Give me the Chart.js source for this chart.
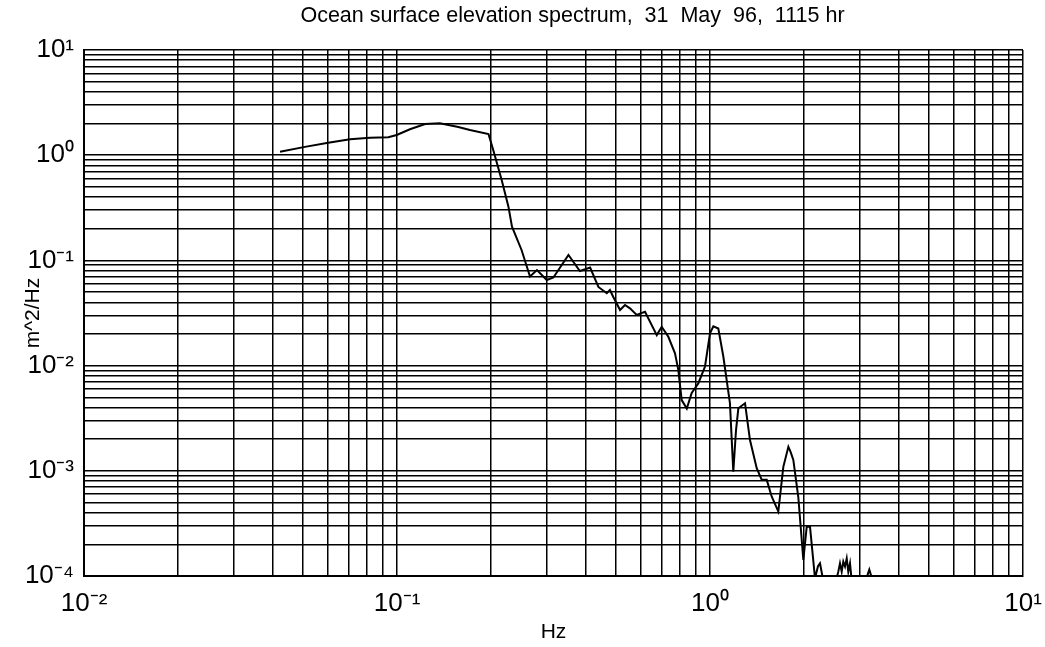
<!DOCTYPE html>
<html>
<head>
<meta charset="utf-8">
<title>Ocean surface elevation spectrum</title>
<script src="https://cdn.jsdelivr.net/npm/chart.js@4.4.1/dist/chart.umd.min.js"></script>
<style>
  html, body { margin: 0; padding: 0; background: #fff; }
  #wrap { width: 1045px; height: 647px; }
</style>
</head>
<body>
<div id="wrap"><canvas id="spectrumChart"></canvas></div>
<script>
// spectrum values: frequency (Hz) and density (m^2/Hz)
const freqHz = [
  0.0423, 0.0508, 0.0603, 0.0708, 0.0820, 0.0938, 0.0998, 0.110, 0.123, 0.137,
  0.157, 0.171, 0.196, 0.203, 0.216, 0.227, 0.233, 0.250, 0.266, 0.280,
  0.301, 0.316, 0.353, 0.384, 0.414, 0.440, 0.468, 0.479, 0.491, 0.516,
  0.535, 0.555, 0.583, 0.620, 0.676, 0.701, 0.736, 0.773, 0.792, 0.812,
  0.843, 0.874, 0.918, 0.964, 1.000, 1.025, 1.063, 1.103, 1.158, 1.187,
  1.211, 1.232, 1.294, 1.342, 1.410, 1.463, 1.518, 1.574, 1.653, 1.715,
  1.780, 1.809, 1.846, 1.915, 1.987, 2.037, 2.087, 2.165, 2.213, 2.246,
  2.301, 2.40, 2.50, 2.570, 2.602, 2.635, 2.666, 2.700, 2.734, 2.766,
  2.801, 2.836, 2.95, 3.10, 3.228, 3.35, 3.50
];
const psd = [
  1.08, 1.20, 1.315, 1.416, 1.467, 1.48, 1.556, 1.763, 1.98, 2.01,
  1.854, 1.736, 1.59, 1.12, 0.581, 0.324, 0.209, 0.1256, 0.0703, 0.081,
  0.0651, 0.0688, 0.1125, 0.0793, 0.0856, 0.0559, 0.0487, 0.0523, 0.0449, 0.0338,
  0.0377, 0.0350, 0.0303, 0.0325, 0.0195, 0.0234, 0.0188, 0.0131, 0.0091, 0.0047,
  0.0039, 0.0055, 0.0068, 0.0098, 0.0203, 0.0236, 0.0225, 0.0122, 0.0044, 0.00098,
  0.00244, 0.00393, 0.00438, 0.00196, 0.00106, 0.00082, 0.00082, 0.00057, 0.00041, 0.00109,
  0.00169, 0.00151, 0.00127, 0.00056, 0.000142, 0.000294, 0.000294, 0.000095, 0.000124, 0.000132,
  0.00009, 0.00008, 0.00008, 0.00011, 0.000132, 0.00011, 0.000137, 0.000123, 0.000147, 0.00011,
  0.000132, 0.00009, 0.00008, 0.00008, 0.000115, 0.00008, 0.00007
];

const xDecades = [0.01, 0.1, 1, 10];
const xTickLabels = ['10⁻²', '10⁻¹', '10⁰', '10¹'];
const yDecades = [0.0001, 0.001, 0.01, 0.1, 1, 10];
const yTickLabels = ['10⁻⁴', '10⁻³', '10⁻²', '10⁻¹', '10⁰', '10¹'];

const titleText = 'Ocean surface elevation spectrum,  31  May  96,  1115 hr';

const FONT = "'Liberation Sans Narrow', 'Liberation Sans', Arial, sans-serif";

// 1..9 in every decade, so the grid looks like log paper
function logGridTicks(decades) {
    const ticks = [];
    for (let i = 0; i < decades.length - 1; i++) {
        for (let m = 1; m <= 9; m++) ticks.push({ value: +(m * decades[i]).toPrecision(3) });
    }
    ticks.push({ value: decades[decades.length - 1] });
    return ticks;
}

function decadeLabel(decades, labels) {
    return (value) => {
        const i = decades.findIndex(d => Math.abs(d - value) / d < 1e-6);
        return i >= 0 ? labels[i] : '';
    };
}

// the scanned title sits a bit right of the plot centre
const plotTitle = {
    id: 'plotTitle',
    afterDraw(chart) {
        const { ctx, chartArea } = chart;
        ctx.save();
        ctx.font = '21.5px ' + FONT;
        ctx.fillStyle = '#000';
        ctx.textAlign = 'center';
        ctx.textBaseline = 'middle';
        ctx.fillText(titleText, (chartArea.left + chartArea.right) / 2 + 19, 16);
        ctx.restore();
    }
};

const ctx = document.getElementById('spectrumChart').getContext('2d');

new Chart(ctx, {
    type: 'line',
    data: {
        datasets: [{
            data: freqHz.map((f, i) => ({ x: f, y: psd[i] })),
            borderColor: '#000',
            borderWidth: 2,
            pointRadius: 0,
            tension: 0
        }]
    },
    options: {
        responsive: true,
        maintainAspectRatio: false,
        animation: false,
        layout: { padding: { left: 0, right: 22, top: 50, bottom: 0 } },
        plugins: {
            legend: { display: false },
            tooltip: { enabled: false },
            title: { display: false }
        },
        scales: {
            x: {
                type: 'logarithmic',
                min: 0.01,
                max: 10,
                afterBuildTicks: (scale) => { scale.ticks = logGridTicks(xDecades); },
                afterFit: (scale) => {
                    scale.height = 71;
                    scale.paddingLeft = 0;
                    scale.paddingRight = 0;
                },
                grid: { color: '#000', lineWidth: 1.5, drawTicks: false },
                border: { color: '#000', width: 2 },
                ticks: {
                    autoSkip: false,
                    maxRotation: 0,
                    color: '#000',
                    padding: 12,
                    font: { family: FONT, size: 26 },
                    callback: decadeLabel(xDecades, xTickLabels)
                },
                title: {
                    display: true,
                    text: 'Hz',
                    color: '#000',
                    font: { family: FONT, size: 21 },
                    padding: { top: 0, bottom: 2 }
                }
            },
            y: {
                type: 'logarithmic',
                min: 0.0001,
                max: 10,
                afterBuildTicks: (scale) => { scale.ticks = logGridTicks(yDecades); },
                afterFit: (scale) => {
                    scale.width = 84;
                    scale.paddingTop = 0;
                    scale.paddingBottom = 0;
                },
                grid: { color: '#000', lineWidth: 1.5, drawTicks: false },
                border: { color: '#000', width: 2 },
                ticks: {
                    autoSkip: false,
                    color: '#000',
                    padding: 10,
                    font: { family: FONT, size: 26 },
                    callback: decadeLabel(yDecades, yTickLabels)
                },
                title: {
                    display: true,
                    text: 'm^2/Hz',
                    color: '#000',
                    font: { family: FONT, size: 21 },
                    padding: { top: 21, bottom: 0 }
                }
            }
        }
    },
    plugins: [plotTitle]
});
</script>
</body>
</html>
